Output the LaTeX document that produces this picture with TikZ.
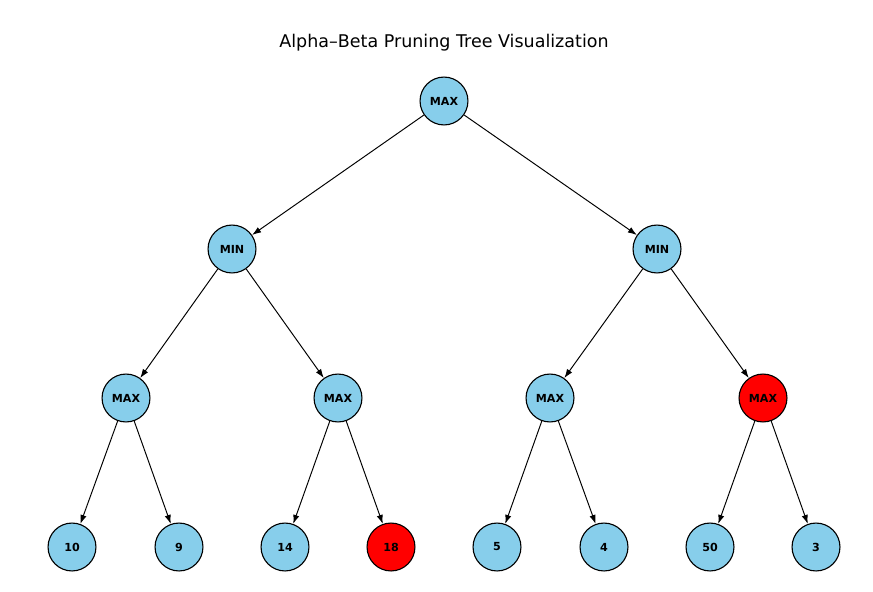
\documentclass[tikz,border=0pt]{standalone}
\usepackage{fontspec}
\setmainfont{DejaVu Sans}
\usetikzlibrary{arrows.meta}
\definecolor{skyblue}{HTML}{87CEEB}

\begin{document}
\begin{tikzpicture}[x=0.72pt,y=-0.72pt,
  state/.style={circle,draw=black,line width=0.8pt,fill=skyblue,minimum size=34.5pt,inner sep=0pt,font=\fontsize{8}{9}\selectfont\bfseries},
  pruned/.style={state,fill=red},
  edge/.style={line width=0.7pt,-{Latex[length=6.5pt,width=4.5pt]}}]
  \useasboundingbox (0,0) rectangle (873,591);
  \node[font=\fontsize{12.6}{15}\selectfont] (title) at (444,43) {Alpha–Beta Pruning Tree Visualization};
  % levels
  \node[state] (root) at (444,101) {MAX};
  \node[state] (mnA) at (232,249) {MIN};
  \node[state] (mnB) at (657,249) {MIN};
  \node[state] (mxA) at (126,398) {MAX};
  \node[state] (mxB) at (338,398) {MAX};
  \node[state] (mxC) at (550,398) {MAX};
  \node[pruned] (mxD) at (763,398) {MAX};
  \node[state] (lfA) at (72,547) {10};
  \node[state] (lfB) at (179,547) {9};
  \node[state] (lfC) at (285,547) {14};
  \node[pruned] (lfD) at (391,547) {18};
  \node[state] (lfE) at (497,547) {5};
  \node[state] (lfF) at (604,547) {4};
  \node[state] (lfG) at (710,547) {50};
  \node[state] (lfH) at (816,547) {3};
  % connectors
  \draw[edge] (root) -- (mnA);
  \draw[edge] (root) -- (mnB);
  \draw[edge] (mnA) -- (mxA);
  \draw[edge] (mnA) -- (mxB);
  \draw[edge] (mnB) -- (mxC);
  \draw[edge] (mnB) -- (mxD);
  \draw[edge] (mxA) -- (lfA);
  \draw[edge] (mxA) -- (lfB);
  \draw[edge] (mxB) -- (lfC);
  \draw[edge] (mxB) -- (lfD);
  \draw[edge] (mxC) -- (lfE);
  \draw[edge] (mxC) -- (lfF);
  \draw[edge] (mxD) -- (lfG);
  \draw[edge] (mxD) -- (lfH);
\end{tikzpicture}
\end{document}
